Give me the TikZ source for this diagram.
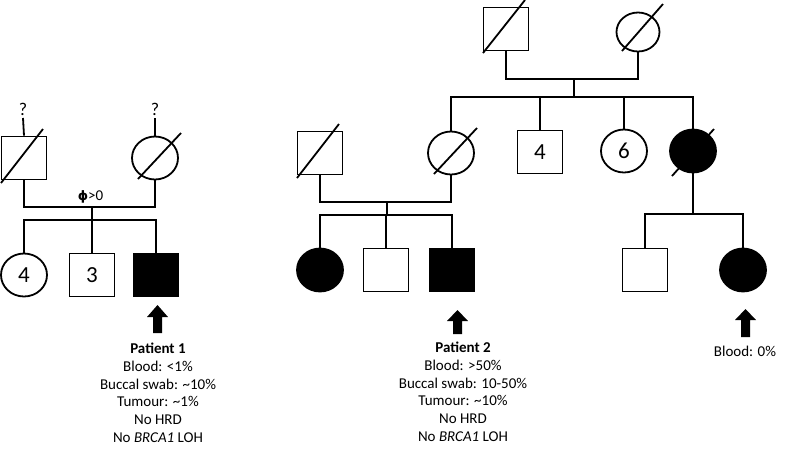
\documentclass[tikz,border=0pt]{standalone}
\usepackage{fontspec}
\setmainfont{Carlito}
\newfontfamily\djv{DejaVu Sans}
\usetikzlibrary{shapes.geometric}
\begin{document}
\begin{tikzpicture}[x=1pt,y=-1pt,
  line width=1.8pt,
  male/.style={rectangle,draw,minimum width=45pt,minimum height=43pt,inner sep=0pt,font=\fontsize{23}{27}\selectfont},
  female/.style={ellipse,draw,minimum width=46pt,minimum height=43pt,inner sep=0pt,font=\fontsize{23}{27}\selectfont},
  aff/.style={fill=black},
  slash/.style={line width=1.8pt},
  qmark/.style={font=\fontsize{18}{20}\selectfont,inner sep=1pt,anchor=south},
  info/.style={align=center,anchor=north,inner sep=0pt,font=\fontsize{15}{17.8}\selectfont},
  arrowfill/.style={fill=black,draw=none}
]
\useasboundingbox (0,0) rectangle (788,459);

% ---------- Family 1 ----------
\node[male] (f1) at (24,158) {};
\node[female] (m1) at (155,158) {};
\draw[slash] ([shift={(-23,25)}]f1.center) -- ([shift={(19,-29)}]f1.center);
\draw[slash] ([shift={(-17,21)}]m1.center) -- ([shift={(26,-25)}]m1.center);
\node[qmark] (q1) at (23,118) {?};
\node[qmark] (q2) at (155,118) {?};
\draw (f1.north) -- (q1.south);
\draw (m1.north) -- (q2.south);
\coordinate (c1) at (92,207);
\draw (f1.south) |- (c1) -| (m1.south);
\node[anchor=base,inner sep=0pt,font=\fontsize{15}{17}\selectfont] (phi) at (90.5,200) {{\djv\bfseries\fontsize{13}{15}\selectfont ϕ}>0};
\coordinate (s1) at (92,220);
\node[female] (c11) at (24,275) {4};
\node[male] (c12) at (92,275) {3};
\node[male,aff] (c13) at (156,275) {};
\draw (c1) -- (s1);
\draw (c11.north) |- (s1) -| (c13.north);
\draw (s1) -- (c12.north);
\coordinate (a1) at (157.5,305);
\fill[arrowfill] (a1) -- ++(10.5,12) -- ++(-6,0) -- ++(0,16) -- ++(-9,0) -- ++(0,-16) -- ++(-6,0) -- cycle;
\node[info] (t1) at (158,342) {\textbf{Patient 1}\\Blood: <1\%\\Buccal swab: \textasciitilde10\%\\Tumour: \textasciitilde1\%\\No HRD\\No \textit{BRCA1} LOH};

% ---------- Family 2 ----------
\node[male] (gf) at (506,29) {};
\node[female,minimum width=43pt,minimum height=39pt] (gm) at (638,32) {};
\draw[slash] ([shift={(-23,24)}]gf.center) -- ([shift={(19,-29)}]gf.center);
\draw[slash] ([shift={(-16,19)}]gm.center) -- ([shift={(25,-28)}]gm.center);
\coordinate (cg) at (574,79);
\coordinate (sg) at (574,97);
\draw (gf.south) |- (cg) -| (gm.south);
\draw (cg) -- (sg);

\node[male] (h) at (320,153) {};
\node[female] (w) at (451,153) {};
\node[male] (b4) at (540,152) {4};
\node[female] (d6) at (624,151) {6};
\node[female,aff] (a3) at (693,151) {};
\draw[slash] ([shift={(-23,25)}]h.center) -- ([shift={(19,-29)}]h.center);
\draw[slash] ([shift={(-17,21)}]w.center) -- ([shift={(26,-25)}]w.center);
\draw[slash] ([shift={(-21,25)}]a3.center) -- ([shift={(21,-22)}]a3.center);
\draw (w.north) |- (sg) -| (a3.north);
\draw (b4.north) -- (b4.north |- sg);
\draw (d6.north) -- (d6.north |- sg);

\coordinate (c2) at (387,202);
\coordinate (s2) at (387,215);
\draw (h.south) |- (c2) -| (w.south);
\draw (c2) -- (s2);
\node[female,aff] (k1) at (320,270) {};
\node[male] (k2) at (386,270) {};
\node[male,aff] (k3) at (452,270) {};
\draw (k1.north) |- (s2) -| (k3.north);
\draw (k2.north) -- (k2.north |- s2);
\coordinate (a2) at (457.5,310);
\fill[arrowfill] (a2) -- ++(10.5,11) -- ++(-6,0) -- ++(0,13) -- ++(-9,0) -- ++(0,-13) -- ++(-6,0) -- cycle;
\node[info] (t2) at (463,341) {\textbf{Patient 2}\\Blood: >50\%\\Buccal swab: 10-50\%\\Tumour: \textasciitilde10\%\\No HRD\\No \textit{BRCA1} LOH};

\coordinate (s3) at (693,214);
\node[male] (g1) at (645,270) {};
\node[female,aff] (g2) at (743,270) {};
\draw (a3.south) -- (s3);
\draw (g1.north) |- (s3) -| (g2.north);
\coordinate (a4) at (745.5,309);
\fill[arrowfill] (a4) -- ++(10.5,11) -- ++(-6,0) -- ++(0,17) -- ++(-9,0) -- ++(0,-17) -- ++(-6,0) -- cycle;
\node[anchor=base,inner sep=0pt,font=\fontsize{15}{17.8}\selectfont] (t3) at (745,356) {Blood: 0\%};
\end{tikzpicture}
\end{document}
